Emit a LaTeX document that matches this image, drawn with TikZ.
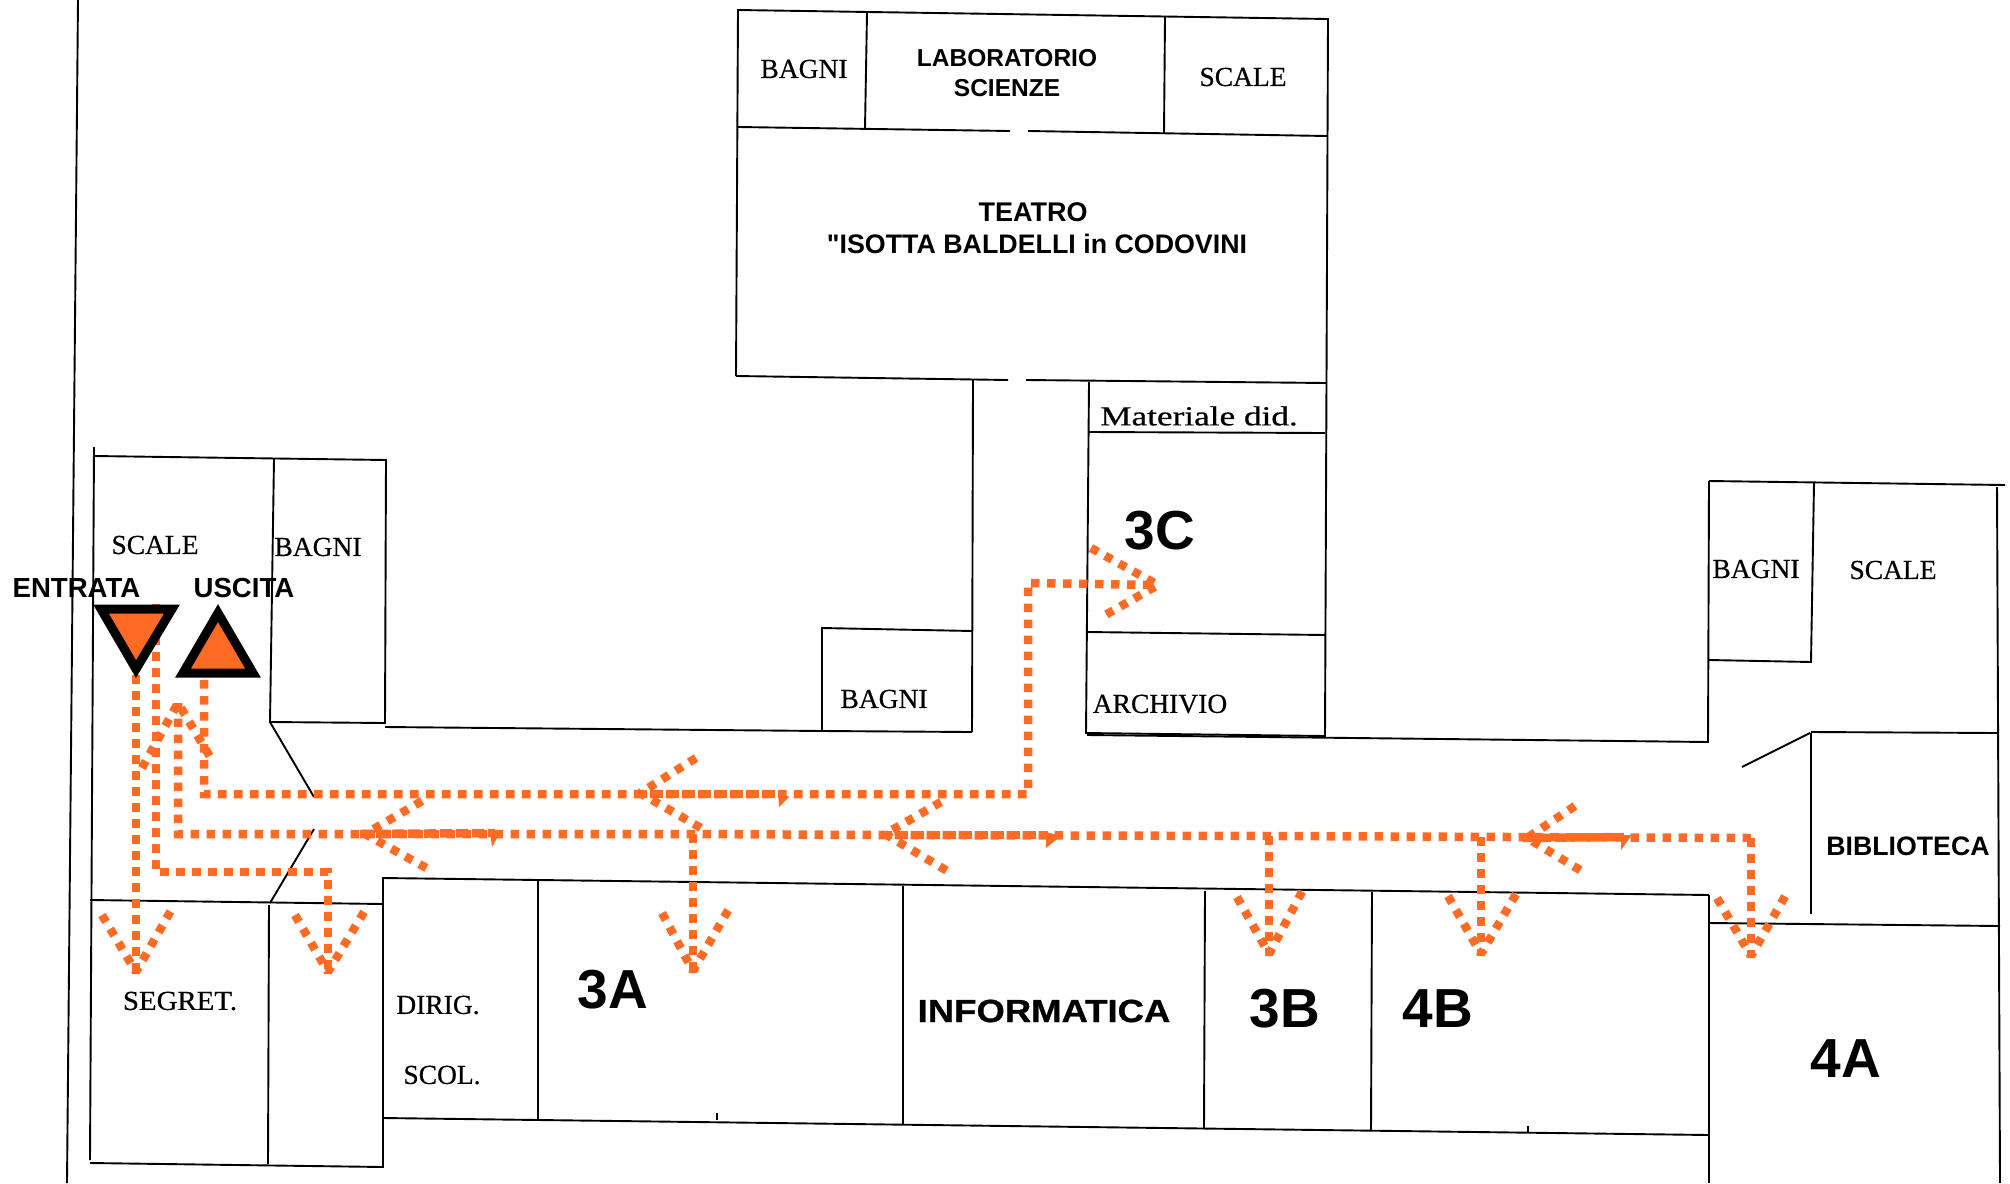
\documentclass[tikz,border=0pt]{standalone}
\usepackage{fontspec}
\usepackage{graphicx}
\setmainfont{Liberation Serif}
\newfontfamily\scanfont[FakeBold=0.5]{Liberation Serif}
\newfontfamily\arl{Liberation Sans}
\newfontfamily\arlheavy[FakeBold=0.8]{Liberation Sans Bold}
\definecolor{routeor}{HTML}{FF6B24}
\tikzset{
  wall/.style={draw=black,line width=1.9pt},
  route/.style={draw=routeor,line width=8.5pt,dash pattern=on 8.5pt off 7.5pt},
  densed/.style={draw=routeor,line width=8.5pt,dash pattern=on 12pt off 4pt},
  vhead/.style={draw=routeor,line width=8.5pt,dash pattern=on 8pt off 8pt,miter limit=1.5},
  tiptri/.style={fill=routeor,draw=none},
  mark tri/.style={fill=routeor,draw=black,line width=9pt,miter limit=10},
  scan/.style={font=\scanfont\fontsize{27.5}{30}\selectfont,inner sep=0pt},
  sans/.style={font=\arl\bfseries\fontsize{26.7}{29}\selectfont,inner sep=0pt,align=center},
  big/.style={font=\arl\bfseries\fontsize{55}{60}\selectfont,inner sep=0pt}
}
\begin{document}
\begin{tikzpicture}[x=1pt,y=-1pt]
\useasboundingbox (0,0) rectangle (2010,1183);
% walls
\draw[wall] (78,0) -- (67,1183);
\draw[wall] (94,447) -- (90,1160);
\draw[wall] (94,456) -- (386,460) -- (385,724);
\draw[wall] (274,459) -- (270,722) -- (385,723);
\draw[wall] (385,727) -- (822,731) -- (972,732);
\draw[wall] (270,722) -- (314,797);
\draw[wall] (314,829) -- (270,903);
\draw[wall] (90,900) -- (383,904);
\draw[wall] (269,905) -- (268,1164);
\draw[wall] (90,1163) -- (383,1167) -- (383,878) -- (1709,895);
\draw[wall] (383,1118) -- (1709,1135);
\draw[wall] (538,881) -- (538,1119);
\draw[wall] (903,886) -- (903,1124);
\draw[wall] (1205,891) -- (1204,1128);
\draw[wall] (1372,892) -- (1371,1131);
\draw[wall] (717,1113) -- (717,1120);
\draw[wall] (1528,1126) -- (1528,1133);
\draw[wall] (1709,895) -- (1709,1183);
\draw[wall] (1709,923) -- (2000,926);
\draw[wall] (1997,487) -- (2000,1183);
\draw[wall] (1709,481) -- (2005,485);
\draw[wall] (1814,483) -- (1811,662) -- (1709,660);
\draw[wall] (1709,481) -- (1708,742) -- (1087,735);
\draw[wall] (1811,732) -- (1997,733);
\draw[wall] (1811,733) -- (1811,914);
\draw[wall] (1742,767) -- (1810,733);
\draw[wall] (736,376) -- (738,10) -- (1328,19) -- (1325,736) -- (1086,733) -- (1089,382);
\draw[wall] (738,127) -- (1010,131);
\draw[wall] (1028,131) -- (1327,136);
\draw[wall] (867,13) -- (865,128);
\draw[wall] (1165,17) -- (1164,133);
\draw[wall] (736,376) -- (1008,380);
\draw[wall] (1026,380) -- (1326,383);
\draw[wall] (973,380) -- (972,732);
\draw[wall] (822,731) -- (822,628) -- (972,631);
\draw[wall] (1089,432) -- (1325,433);
\draw[wall] (1087,632) -- (1325,635);
% named route points
\coordinate (tipA) at (136,972);
\coordinate (tipB) at (328,972);
\coordinate (tipU) at (178,703);
\coordinate (tipC) at (1158,585);
\coordinate (tipD) at (1751,956);
\coordinate (tip3A) at (693,971);
\coordinate (tip3B) at (1269,954);
\coordinate (tip4B) at (1481,954);
% routes
\draw[route] (136,675) -- (tipA);
\draw[route] (156,604) -- (156,872) -- (328,872) -- (tipB);
\draw[route] (1751,838) -- (1269,836) -- (880,835) -- (693,834) -- (178,834) -- (tipU);
\draw[route] (204,680) -- (204,794) -- (1028,794) -- (1028,583) -- (tipC);
\draw[route] (693,834) -- (tip3A);
\draw[route] (1269,836) -- (tip3B);
\draw[route] (1481,837) -- (tip4B);
% open V heads
\draw[vhead] (102,915) -- (tipA) -- (173,907);
\draw[vhead] (295,915) -- (tipB) -- (367,907);
\draw[vhead] (142,768) -- (tipU) -- (212,760);
\draw[vhead] (1091,548) -- (tipC) -- (1100,618);
\draw[vhead] (1717,898) -- (tipD) -- (1788,891);
\draw[route] (1751,838) -- (tipD);
\draw[vhead] (662,913) -- (tip3A) -- (730,907);
\draw[vhead] (1237,897) -- (tip3B) -- (1304,888);
\draw[vhead] (1448,896) -- (tip4B) -- (1519,889);
% corridor heads with dense shafts
\draw[vhead] (696,758) -- (640,793) -- (701,828);
\draw[densed] (635,794) -- (780,794);
\fill[tiptri] (778,790) -- (789,797) -- (779,807) -- cycle;
\draw[vhead] (422,801) -- (365,834) -- (430,870);
\draw[densed] (360,834) -- (495,833);
\fill[tiptri] (490,830) -- (501,831) -- (492,847) -- cycle;
\draw[vhead] (941,802) -- (885,834) -- (949,872);
\draw[densed] (880,835) -- (1048,835);
\fill[tiptri] (1046,832) -- (1061,836) -- (1046,848) -- cycle;
\draw[vhead] (1575,806) -- (1527,838) -- (1585,873);
\draw[densed] (1523,838) -- (1624,837);
\fill[tiptri] (1621,835) -- (1632,835) -- (1621,850) -- cycle;
% markers
\draw[mark tri] (101,609) -- (172,609) -- (136,669) -- cycle;
\draw[mark tri] (218,613) -- (183,673) -- (253,673) -- cycle;
% texts
\node[sans,font=\arl\bfseries\fontsize{27.6}{29}\selectfont] (entrata) at (76.5,588) {ENTRATA};
\node[sans,font=\arl\bfseries\fontsize{27.6}{29}\selectfont] (uscita) at (244,588) {USCITA};
\node[sans,font=\arl\bfseries\fontsize{24.5}{30}\selectfont] (lab) at (1007,73) {LABORATORIO\\SCIENZE};
\node[sans,font=\arl\bfseries\fontsize{27}{32}\selectfont] (teatro) at (1033,212) {TEATRO};
\node[sans,font=\arl\bfseries\fontsize{26.8}{32}\selectfont] (isotta) at (1037,244) {"ISOTTA BALDELLI in CODOVINI};
\node[sans] (bib) at (1908,846) {BIBLIOTECA};
\node[sans,font=\arlheavy\fontsize{32}{36}\selectfont] (info) at (1044,1011) {\scalebox{1.14}[1]{INFORMATICA}};
\node[scan] (scaleL) at (155,545) {SCALE};
\node[scan] (bagniL) at (318,547) {BAGNI};
\node[scan] (segret) at (180,1001) {\scalebox{1.05}[1]{SEGRET.}};
\node[scan] (dirig) at (438,1005) {DIRIG.};
\node[scan] (scol) at (442,1075) {SCOL.};
\node[scan] (bagniT) at (804,69) {BAGNI};
\node[scan] (scaleT) at (1243,77) {SCALE};
\node[scan] (mat) at (1199,416) {\scalebox{1.28}[1]{Materiale did.}};
\node[scan] (bagniM) at (884,699) {BAGNI};
\node[scan] (arch) at (1160,704) {ARCHIVIO};
\node[scan] (bagniR) at (1756,569) {BAGNI};
\node[scan] (scaleR) at (1893,570) {SCALE};
\node[big] (r3C) at (1160,531) {3C};
\node[big] (r3A) at (613,990) {3A};
\node[big] (r3B) at (1285,1009) {3B};
\node[big] (r4B) at (1438,1009) {4B};
\node[big] (r4A) at (1846,1059) {4A};
\end{tikzpicture}
\end{document}
